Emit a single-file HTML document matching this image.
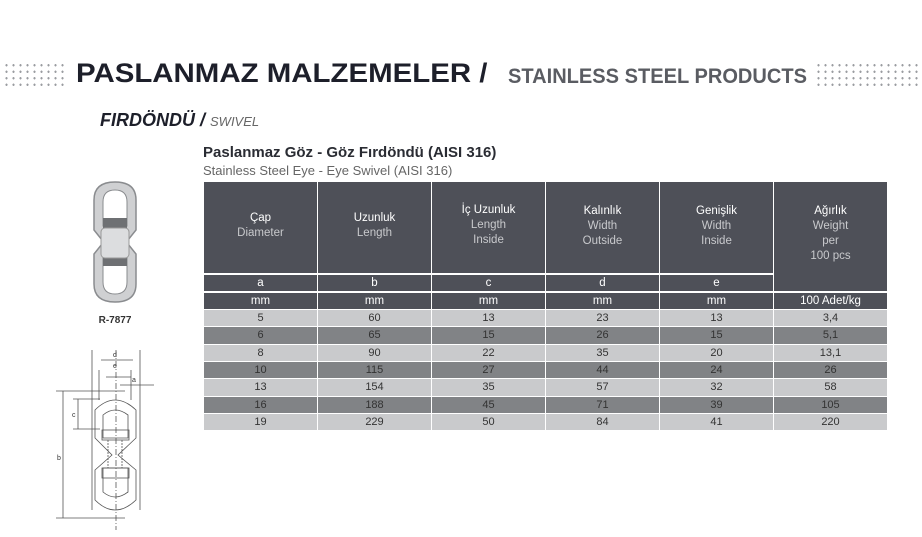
<!DOCTYPE html>
<html><head><meta charset="utf-8"><style>
body{margin:0;width:922px;height:537px;background:#fff;position:relative;overflow:hidden;font-family:"Liberation Sans","DejaVu Sans",sans-serif}
.a{position:absolute}
.c{position:absolute;text-align:center;box-sizing:border-box}
.h{background:#4e5058;color:#fff;font-size:11.5px;line-height:15px}
.h span{color:#c8c9cc}
.dots{position:absolute;background-image:radial-gradient(circle,#9a9ca0 1px,transparent 1.3px);background-size:7px 6.5px}
.r{font-size:11px;color:#333}
</style></head><body>
<div class="dots" style="left:3px;top:62px;width:63px;height:26px"></div>
<div class="dots" style="left:815px;top:62px;width:105px;height:26px"></div>
<div class="a" style="left:76px;top:58px;font-size:27px;font-weight:bold;color:#1d1f2a;transform:scaleX(1.09);transform-origin:0 0;white-space:nowrap">PASLANMAZ MALZEMELER /</div>
<div class="a" style="left:508px;top:65px;font-size:21px;font-weight:bold;color:#5a5c62;transform:scaleX(0.955);transform-origin:0 0;white-space:nowrap">STAINLESS STEEL PRODUCTS</div>
<div class="a" style="left:100px;top:110px;font-size:18px;font-weight:bold;font-style:italic;color:#1d1f2a">FIRDÖNDÜ / <span style="font-size:13px;font-weight:normal;color:#666">SWIVEL</span></div>
<div class="a" style="left:203px;top:144px;font-size:15px;font-weight:bold;color:#2a2c33">Paslanmaz Göz - Göz Fırdöndü (AISI 316)</div>
<div class="a" style="left:203px;top:163px;font-size:13px;color:#666">Stainless Steel Eye - Eye Swivel (AISI 316)</div>
<div id="t"></div>
<svg class="a" style="left:40px;top:170px" width="150" height="360" viewBox="0 0 150 360">
<g fill="#cfd0d2" stroke="#8a8c8f" stroke-width="1.5">
<path d="M54 30 Q54 12 75 12 Q96 12 96 30 L96 60 L88 70 L62 70 L54 60Z"/>
<path d="M54 114 Q54 132 75 132 Q96 132 96 114 L96 84 L88 74 L62 74 L54 84Z"/>
</g>
<path d="M63 32 Q63 20 75 20 Q87 20 87 32 L87 56 L63 56Z" fill="#fff" stroke="#8a8c8f"/>
<path d="M63 112 Q63 124 75 124 Q87 124 87 112 L87 88 L63 88Z" fill="#fff" stroke="#8a8c8f"/>
<rect x="63" y="48" width="24" height="14" fill="#6e7073"/>
<rect x="63" y="84" width="24" height="12" fill="#6e7073"/>
<rect x="61" y="58" width="28" height="30" rx="4" fill="#dcdddf" stroke="#999"/>
<text x="75" y="153" font-size="10" font-weight="bold" text-anchor="middle" fill="#333" font-family="Liberation Sans">R-7877</text>
<g fill="none" stroke="#555" stroke-width="0.8">
<path d="M52 180 V340 M100 180 V340 M61 190 H93 M59 200 V230 M91 200 V230 M66 207 H91 M80 215 H114 M16 221 H85 M23 221 V348 M16 348 H85 M33 229 H60 M33 259 H60 M38 229 V259"/>
<path d="M55 240 Q75 220 96 240 L96 268 L78 285 L96 300 L96 330 Q75 350 55 330 L55 300 L72 285 L55 268Z"/>
<path d="M63 245 Q75 235 88 245 L88 268 L63 268Z M63 322 Q75 332 88 322 L88 298 L63 298Z"/>
<rect x="62" y="260" width="27" height="10"/><rect x="62" y="298" width="27" height="10"/>
<path d="M68 270 V298 M82 270 V298" stroke-dasharray="2 1"/>
<path d="M76 180 V360" stroke-dasharray="6 2 1 2"/>
</g>
<g font-size="7" fill="#333" font-family="Liberation Sans"><text x="73" y="187">d</text><text x="73" y="198">e</text><text x="92" y="212">a</text><text x="32" y="247">c</text><text x="17" y="290">b</text></g>
</svg>
<script>
var X=[203,317,431,545,659,773,887];
var H=[["Çap","Diameter"],["Uzunluk","Length"],["İç Uzunluk","Length","Inside"],["Kalınlık","Width","Outside"],["Genişlik","Width","Inside"],["Ağırlık","Weight","per","100 pcs"]];
var L=["a","b","c","d","e"];
var D=[[5,60,13,23,13,"3,4"],[6,65,15,26,15,"5,1"],[8,90,22,35,20,"13,1"],[10,115,27,44,24,26],[13,154,35,57,32,58],[16,188,45,71,39,105],[19,229,50,84,41,220]];
var T=[310,327,345,362,379,397,414,431];
var s="";
for(var i=0;i<6;i++){var l=X[i]+1,w=X[i+1]-X[i]-1;
var hh=(i<5?91:109);
var pad="padding-top:22px";
if(i==0||i==1)pad="padding-top:29px";if(i==2)pad="padding-top:21px";
s+='<div class="c h" style="left:'+l+'px;top:182px;width:'+w+'px;height:'+hh+'px;'+pad+'">'+H[i][0]+'<br><span>'+H[i].slice(1).join('<br>')+'</span></div>';
if(i<5)s+='<div class="c h" style="left:'+l+'px;top:275px;width:'+w+'px;height:16px;line-height:16px">'+L[i]+'</div>';
s+='<div class="c h" style="left:'+l+'px;top:293px;width:'+w+'px;height:16px;line-height:16px">'+(i<5?"mm":"100 Adet/kg")+'</div>';
for(var r=0;r<7;r++){var h=T[r+1]-T[r]-1;s+='<div class="c r" style="left:'+l+'px;top:'+T[r]+'px;width:'+w+'px;height:'+h+'px;line-height:'+h+'px;background:'+(r%2?"#818386":"#c9cacc")+'">'+D[r][i]+'</div>';}
}
document.getElementById("t").innerHTML=s;
</script>
</body></html>
